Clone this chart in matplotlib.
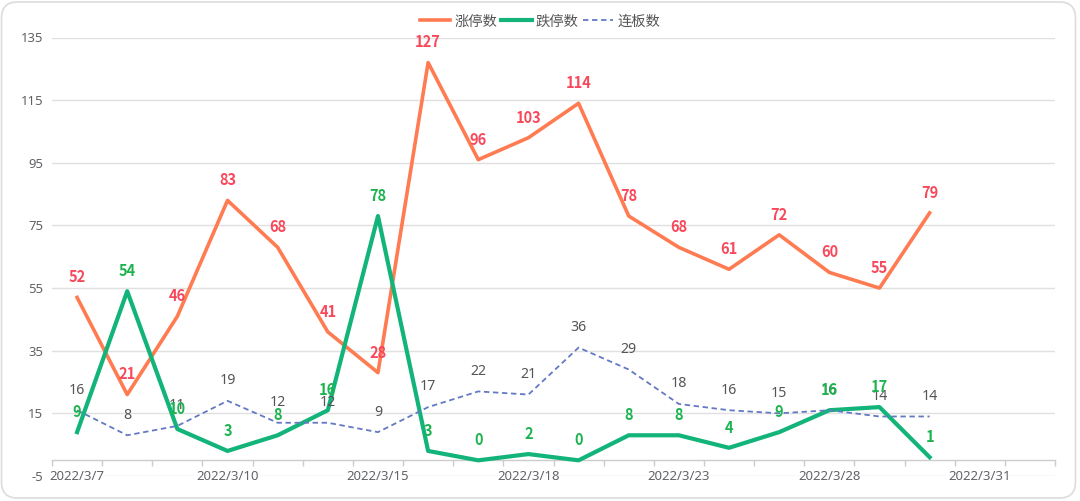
import matplotlib
matplotlib.use("Agg")
import matplotlib.pyplot as plt
import matplotlib.transforms as mtransforms
from matplotlib.patches import FancyBboxPatch
import numpy as np

plt.rcParams['font.family'] = ['Noto Sans', 'Noto Sans CJK SC', 'DejaVu Sans']
BOLD_FAMILY = ['Noto Sans CJK SC', 'DejaVu Sans']

# categories (trading days), only every 3rd one labelled
dates = ['2022/3/7', '2022/3/8', '2022/3/9', '2022/3/10', '2022/3/11', '2022/3/14',
         '2022/3/15', '2022/3/16', '2022/3/17', '2022/3/18', '2022/3/21', '2022/3/22',
         '2022/3/23', '2022/3/24', '2022/3/25', '2022/3/28', '2022/3/29', '2022/3/30',
         '2022/3/31', '2022/4/1']
limit_up = [52, 21, 46, 83, 68, 41, 28, 127, 96, 103, 114, 78, 68, 61, 72, 60, 55, 79]
limit_down = [9, 54, 10, 3, 8, 16, 78, 3, 0, 2, 0, 8, 8, 4, 9, 16, 17, 1]
streak = [16, 8, 11, 19, 12, 12, 9, 17, 22, 21, 36, 29, 18, 16, 15, 16, 14, 14]
y_ticks = [-5, 15, 35, 55, 75, 95, 115, 135]

W, H = 1080, 501
fig = plt.figure(figsize=(W / 100, H / 100), dpi=100)

# rounded card border
card = FancyBboxPatch((1.5, 3), 1074, 496, boxstyle='round,pad=0,rounding_size=16',
                      transform=mtransforms.IdentityTransform(),
                      facecolor='none', edgecolor='#dcdcdc', linewidth=1.2, zorder=10)
fig.patches.append(card)

left, right, top, bottom = 52, 1055, 37.5, 476
ax = fig.add_axes([left / W, 1 - bottom / H, (right - left) / W, (bottom - top) / H])
ax.set_facecolor('none')

x = np.arange(len(limit_up))

ax.plot(x, limit_up, color='#FF7B52', lw=2.6, label='涨停数', zorder=3)
ax.plot(x, limit_down, color='#12B47A', lw=3.0, label='跌停数', zorder=4)
ax.plot(np.arange(len(streak)), streak, color='#6479C4', lw=1.3, ls=(0, (3, 2)),
        label='连板数', zorder=5)

# value labels
for xi, v in zip(x, limit_up):
    ax.annotate(str(v), (xi, v), xytext=(0, 14.5), textcoords='offset points',
                ha='center', va='center', fontsize=10.5, fontweight='bold',
                family=BOLD_FAMILY, color='#F8485B', zorder=6)
for xi, v in zip(np.arange(len(streak)), streak):
    ax.annotate(str(v), (xi, v), xytext=(0, 14.5), textcoords='offset points',
                ha='center', va='center', fontsize=10.2, color='#555555', zorder=6)
for xi, v in zip(x, limit_down):
    ax.annotate(str(v), (xi, v), xytext=(0, 14.5), textcoords='offset points',
                ha='center', va='center', fontsize=10.5, fontweight='bold',
                family=BOLD_FAMILY, color='#1DB350', zorder=7)

ax.set_xlim(-0.5, len(dates) - 0.5)
ax.set_ylim(-5, 135)

# y axis: gridlines only
ax.set_yticks(y_ticks)
ax.set_yticklabels([str(t) for t in y_ticks])
ax.tick_params(axis='y', length=0, pad=6.5, labelsize=9.4, labelcolor='#606266')
ax.grid(axis='y', color='#E0E0E0', lw=1, zorder=0)
ax.set_axisbelow(True)

# x axis sits on zero
for s in ['top', 'right', 'left']:
    ax.spines[s].set_visible(False)
ax.spines['bottom'].set_position(('data', 0))
ax.spines['bottom'].set_color('#CCCCCC')
ax.spines['bottom'].set_linewidth(1)

label_idx = list(range(0, len(dates), 3))
ax.set_xticks(label_idx)
ax.set_xticklabels([dates[i] for i in label_idx])
ax.set_xticks(np.arange(-0.5, len(dates), 1), minor=True)
ax.tick_params(axis='x', which='major', length=0, pad=7, labelsize=9.5,
               labelcolor='#606266')
ax.tick_params(axis='x', which='minor', length=4.5, width=1, color='#CCCCCC')

fig.legend(loc='center', bbox_to_anchor=(0.5, 1 - 22 / H), ncol=3, frameon=False,
           fontsize=10.3, handlelength=2.1, handletextpad=0.3, columnspacing=0.3,
           labelcolor='#555555')

fig.savefig('out.png', dpi=100)
